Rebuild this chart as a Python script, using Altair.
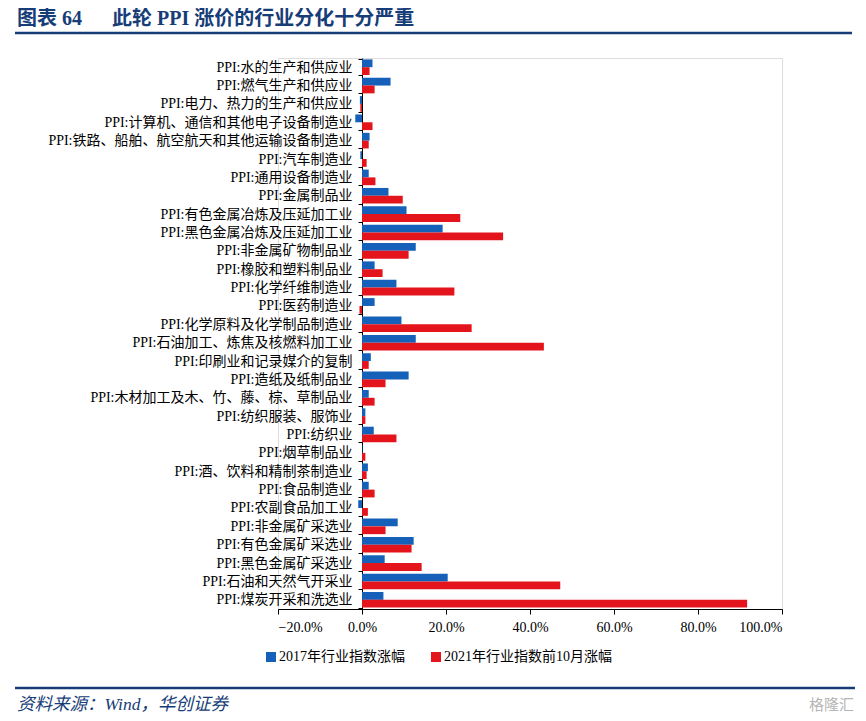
import altair as alt
import pandas as pd

categories = [
    "PPI:水的生产和供应业",
    "PPI:燃气生产和供应业",
    "PPI:电力、热力的生产和供应业",
    "PPI:计算机、通信和其他电子设备制造业",
    "PPI:铁路、船舶、航空航天和其他运输设备制造业",
    "PPI:汽车制造业",
    "PPI:通用设备制造业",
    "PPI:金属制品业",
    "PPI:有色金属冶炼及压延加工业",
    "PPI:黑色金属冶炼及压延加工业",
    "PPI:非金属矿物制品业",
    "PPI:橡胶和塑料制品业",
    "PPI:化学纤维制造业",
    "PPI:医药制造业",
    "PPI:化学原料及化学制品制造业",
    "PPI:石油加工、炼焦及核燃料加工业",
    "PPI:印刷业和记录媒介的复制",
    "PPI:造纸及纸制品业",
    "PPI:木材加工及木、竹、藤、棕、草制品业",
    "PPI:纺织服装、服饰业",
    "PPI:纺织业",
    "PPI:烟草制品业",
    "PPI:酒、饮料和精制茶制造业",
    "PPI:食品制造业",
    "PPI:农副食品加工业",
    "PPI:非金属矿采选业",
    "PPI:有色金属矿采选业",
    "PPI:黑色金属矿采选业",
    "PPI:石油和天然气开采业",
    "PPI:煤炭开采和洗选业",
]

ind_2017 = [2.5, 6.8, -0.5, -1.6, 1.8, -0.4, 1.6, 6.3, 10.6, 19.2,
            12.8, 3.0, 8.2, 3.0, 9.4, 12.8, 2.1, 11.1, 1.6, 0.8,
            2.8, 0.1, 1.4, 1.6, -0.9, 8.5, 12.3, 5.4, 20.4, 5.1]
ind_2021 = [1.8, 3.0, -0.4, 2.5, 1.6, 1.1, 3.2, 9.7, 23.4, 33.6,
            11.1, 4.9, 22.0, -0.6, 26.1, 43.3, 1.6, 5.6, 3.0, 0.8,
            8.2, 0.8, 1.1, 3.0, 1.4, 5.6, 11.8, 14.2, 47.2, 91.7]

series = ["2017年行业指数涨幅", "2021年行业指数前10月涨幅"]
colors = ["#1560b8", "#e3141c"]
x_ticks = [-20, 0, 20, 40, 60, 80, 100]

title_num = "图表 64"
title_text = "此轮 PPI 涨价的行业分化十分严重"
source_text = "资料来源：Wind，华创证券"
watermark_text = "格隆汇"

rows = []
for c, a, b in zip(categories, ind_2017, ind_2021):
    rows.append({"cat": c, "series": series[0], "value": a})
    rows.append({"cat": c, "series": series[1], "value": b})
df = pd.DataFrame(rows)

FONT = "Liberation Serif, Noto Sans CJK SC"
W, H = 504, 551
NAVY = "#173d78"

bars = alt.Chart(df).mark_bar().encode(
    x=alt.X("value:Q",
            scale=alt.Scale(domain=[-20, 100], nice=False, zero=False),
            axis=alt.Axis(values=x_ticks, title=None, grid=False,
                          labelExpr="format(datum.value, '.1f') + '%'",
                          tickSize=5, tickColor="black", domainColor="black",
                          labelFont=FONT, labelFontSize=14, labelColor="black",
                          labelPadding=6)),
    y=alt.Y("cat:N", sort=categories,
            scale=alt.Scale(paddingInner=0.15, paddingOuter=0.075),
            axis=alt.Axis(title=None, offset=-84, tickBand="extent",
                          tickSize=4, tickColor="black", domainColor="black",
                          labelFont=FONT, labelFontSize=14, labelColor="black",
                          labelLimit=0, labelPadding=6)),
    yOffset=alt.YOffset("series:N", sort=series,
                        scale=alt.Scale(paddingInner=0, paddingOuter=0)),
    color=alt.Color("series:N", sort=series,
                    scale=alt.Scale(domain=series, range=colors),
                    legend=alt.Legend(title=None, orient="none",
                                      legendX=-14, legendY=592,
                                      direction="horizontal",
                                      symbolType="square", symbolSize=100,
                                      symbolStrokeWidth=0,
                                      labelFont=FONT, labelFontSize=14,
                                      labelColor="black", labelLimit=0,
                                      columnPadding=24, labelOffset=1,
                                      padding=0)),
)

title1 = alt.Chart(pd.DataFrame({"t": [title_num]})).mark_text(
    align="left", baseline="middle", font=FONT, fontSize=20,
    fontWeight="bold", color=NAVY
).encode(x=alt.value(-261), y=alt.value(-39), text="t:N")

title2 = alt.Chart(pd.DataFrame({"t": [title_text]})).mark_text(
    align="left", baseline="middle", font=FONT, fontSize=20,
    fontWeight="bold", color=NAVY
).encode(x=alt.value(-166), y=alt.value(-39), text="t:N")

top_rule = alt.Chart(pd.DataFrame({"a": [0]})).mark_rule(
    color=NAVY, strokeWidth=2.5
).encode(x=alt.value(-263), x2=alt.value(574), y=alt.value(-25))

bottom_rule = alt.Chart(pd.DataFrame({"a": [0]})).mark_rule(
    color=NAVY, strokeWidth=2.5
).encode(x=alt.value(-263), x2=alt.value(577), y=alt.value(630))

source = alt.Chart(pd.DataFrame({"t": [source_text]})).mark_text(
    align="left", baseline="middle", font=FONT, fontSize=17.5,
    fontStyle="italic", color=NAVY
).encode(x=alt.value(-261), y=alt.value(647), text="t:N")

watermark = alt.Chart(pd.DataFrame({"t": [watermark_text]})).mark_text(
    align="right", baseline="middle", font="Noto Sans CJK SC", fontSize=15,
    color="#b5b5b5"
).encode(x=alt.value(576), y=alt.value(647), text="t:N")

chart = alt.layer(bars, title1, title2, top_rule, bottom_rule, source, watermark).properties(
    width=W, height=H,
    autosize=alt.AutoSizeParams(type="none"),
    padding={"left": 270, "top": 50, "right": 76, "bottom": 104},
).configure_view(stroke=None).configure(background="white")

chart.save("out.html", embed_options={"renderer": "svg", "actions": False})
